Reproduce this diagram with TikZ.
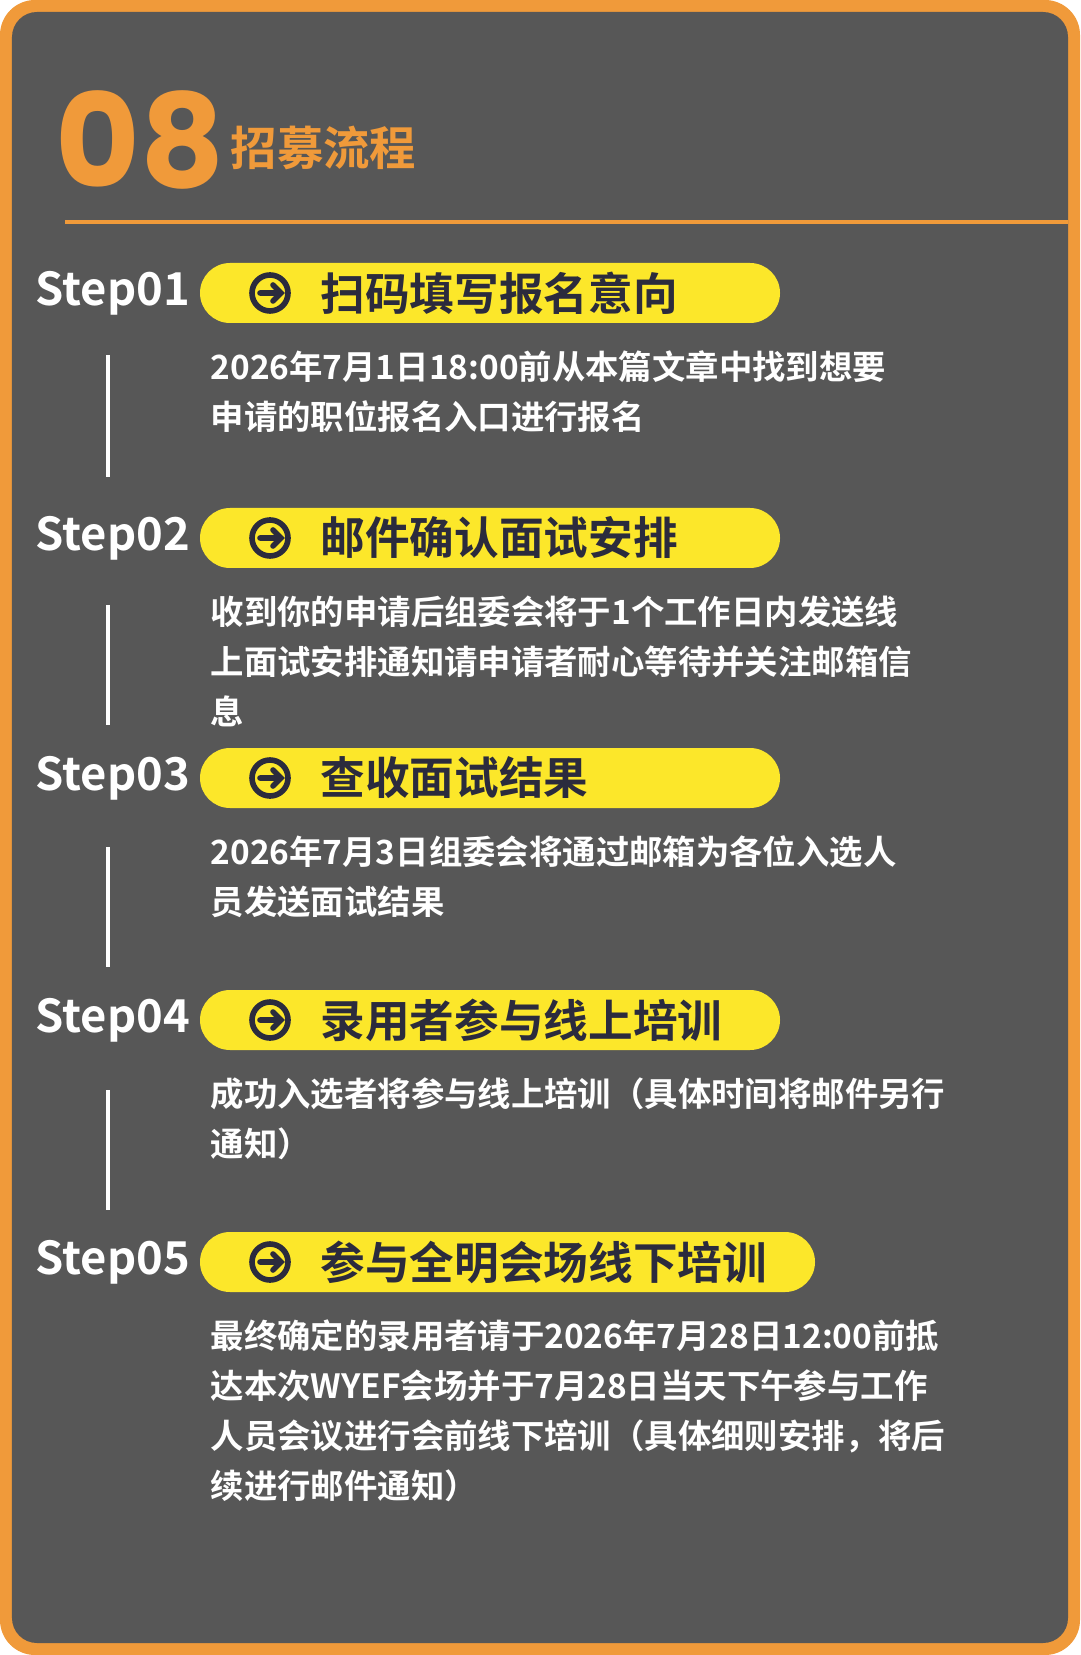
\documentclass[tikz,border=0pt]{standalone}
\usepackage{fontspec}
\setmainfont{Noto Sans CJK SC}[BoldFont={* Bold}]
\newfontfamily\numfont{Poppins}[BoldFont={* Bold}]
\usetikzlibrary{positioning}
\definecolor{frameorange}{HTML}{F09A3A}
\definecolor{bggrey}{HTML}{575757}
\definecolor{pillyellow}{HTML}{FCE72A}
\definecolor{titleink}{HTML}{2B2B3D}
\tikzset{
  steplabel/.style={text=white, font=\bfseries\fontsize{12.9}{13}\selectfont, anchor=west, inner sep=0pt},
  pill/.style={fill=pillyellow, rounded corners=0.3cm},
  pilltitle/.style={text=titleink, font=\bfseries\fontsize{12.7}{13}\selectfont, anchor=west, inner sep=0pt},
  bodytext/.style={text=white, font=\bfseries\fontsize{9.5}{14.2}\selectfont, anchor=north west, align=left, inner sep=0pt},
  guide/.style={white, line width=1.2pt}
}
\begin{document}
\begin{tikzpicture}
\useasboundingbox (0,0) rectangle (10.8,-16.55);
\fill[frameorange, rounded corners=0.35cm] (0,0) rectangle (10.8,-16.55);
\fill[bggrey, rounded corners=0.25cm] (0.12,-0.12) rectangle (10.68,-16.43);
% heading
\node[text=frameorange, font=\numfont\bfseries\fontsize{37}{37}\selectfont, anchor=west, inner sep=0pt] (num) at (0.55,-1.4) {08};
\node[text=frameorange, font=\bfseries\fontsize{13.2}{14}\selectfont, anchor=west, inner sep=0pt] (head) at (2.3,-1.48) {招募流程};
\coordinate (ruleA) at (0.65,-2.22);
\coordinate (ruleB) at (10.68,-2.22);
\draw[frameorange, line width=1pt] (ruleA) -- (ruleB);
% steps
\foreach \n/\y/\w/\title/\body/\ltop/\lbot in {
  1/2.93/7.8/扫码填写报名意向/{2026年7月1日18:00前从本篇文章中找到想要\\申请的职位报名入口进行报名}/3.55/4.77,
  2/5.38/7.8/邮件确认面试安排/{收到你的申请后组委会将于1个工作日内发送线\\上面试安排通知请申请者耐心等待并关注邮箱信\\息}/6.05/7.25,
  3/7.78/7.8/查收面试结果/{2026年7月3日组委会将通过邮箱为各位入选人\\员发送面试结果}/8.47/9.67,
  4/10.2/7.8/录用者参与线上培训/{成功入选者将参与线上培训（具体时间将邮件另行\\通知）}/10.9/12.1,
  5/12.62/8.15/参与全明会场线下培训/{最终确定的录用者请于2026年7月28日12:00前抵\\达本次WYEF会场并于7月28日当天下午参与工作\\人员会议进行会前线下培训（具体细则安排，将后\\续进行邮件通知）}/0/0}
{
  \node[steplabel] (step\n) at (0.35,-\y) {Step0\n};
  \fill[pill] (2.0,-\y+0.3) rectangle (\w,-\y-0.3);
  \draw[titleink, line width=1.6pt] (2.7,-\y) circle (0.18);
  \draw[titleink, line width=1.6pt, line cap=round] (2.6,-\y) -- (2.8,-\y) (2.73,-\y+0.08) -- (2.81,-\y) -- (2.73,-\y-0.08);
  \node[pilltitle] (title\n) at (3.2,-\y) {\title};
  \node[bodytext] (body\n) at (2.1,-\y-0.57) {\body};
  \ifnum\n<5
    \coordinate (lineA\n) at (1.08,-\ltop);
    \coordinate (lineB\n) at (1.08,-\lbot);
    \draw[guide] (lineA\n) -- (lineB\n);
  \fi
}
\end{tikzpicture}
\end{document}
